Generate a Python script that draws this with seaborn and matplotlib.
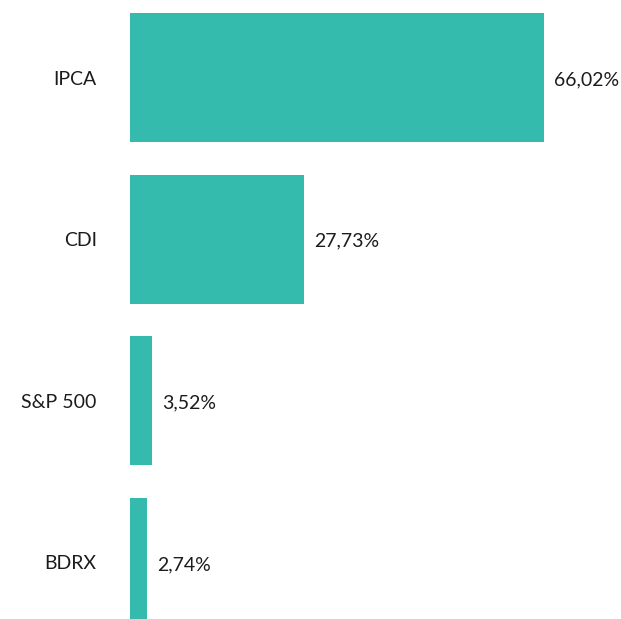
import pandas as pd
import matplotlib
matplotlib.use("Agg")
import matplotlib.pyplot as plt
import seaborn as sns

sns.set_theme(style="white")
plt.rcParams["font.family"] = ["Lato", "DejaVu Sans"]

CATEGORIES = ["IPCA", "CDI", "S&P 500", "BDRX"]
VALUES = [66.02, 27.73, 3.52, 2.74]

BAR_COLOR = "#35BBAD"
TEXT_COLOR = "#1c1c1c"

df = pd.DataFrame({"indexador": CATEGORIES, "pct": VALUES})

fig = plt.figure(figsize=(6.21, 6.19), dpi=100)
ax = fig.add_axes([130 / 621, 0, 1 - 130 / 621, 1])

sns.barplot(data=df, y="indexador", x="pct", orient="h",
            color=BAR_COLOR, saturation=1, width=0.8, linewidth=0, ax=ax)

ax.set_xlim(0, 78.3)
ax.set_ylim(3.35, -0.48)

# rótulos de valor à direita das barras
for i, v in enumerate(VALUES):
    ax.annotate(f"{v:.2f}%".replace(".", ","), xy=(v, i), xytext=(7.5, -1.5),
                textcoords="offset points", va="center", ha="left",
                fontsize=14, color=TEXT_COLOR)

ax.set_xlabel("")
ax.set_ylabel("")
ax.set_xticks([])
ax.tick_params(axis="y", length=0, pad=24, labelsize=14, labelcolor=TEXT_COLOR)
sns.despine(ax=ax, left=True, bottom=True)

fig.savefig("out.png", dpi=100)
plt.close(fig)
